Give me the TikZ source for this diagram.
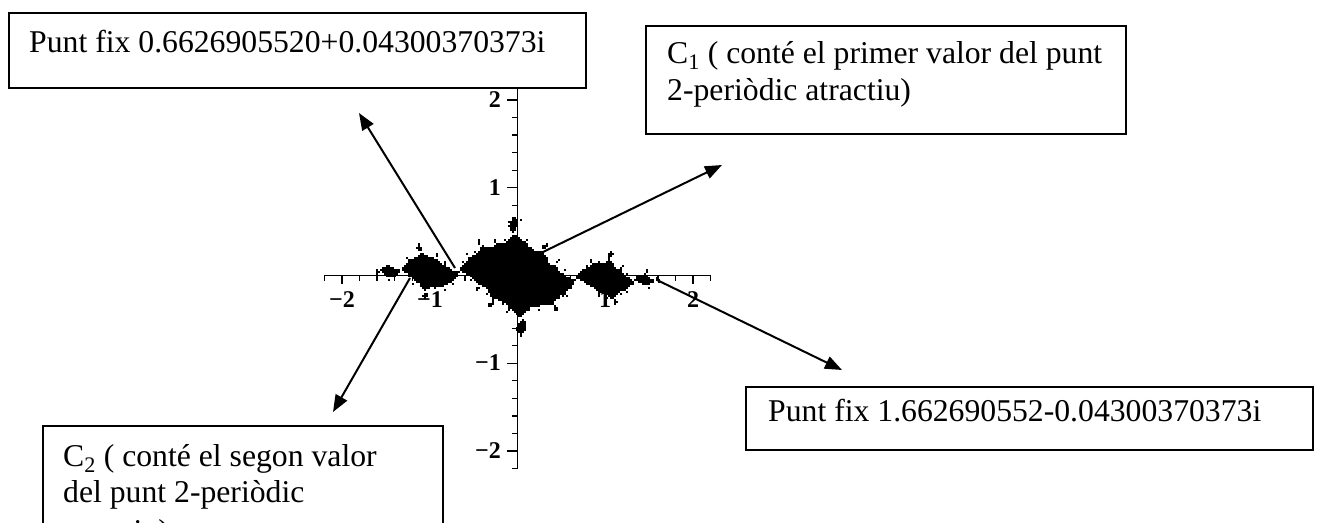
\documentclass[tikz,border=0pt]{standalone}
\usepackage{fontspec}
\setmainfont{Liberation Serif}
\usetikzlibrary{arrows.meta}
\newcount\JX \newcount\JY \newcount\JT \newcount\JN \newcount\JA \newcount\JB
\newif\ifJin \newif\ifJgo \newif\ifJrun
\def\Jmax{40}
% filled Julia set of z^2 + c, c = -1.1 + 0.1i, fixed point arithmetic (scale 65536)
\def\juliatest#1#2{%
  \JX=\numexpr#1\relax \JY=\numexpr#2\relax \JN=0 \Jintrue
  \loop
    \JA=\numexpr\JX*\JX/65536\relax
    \JB=\numexpr\JY*\JY/65536\relax
    \ifnum\numexpr\JA+\JB\relax>262144 \Jinfalse\fi
    \Jgofalse
    \ifJin\ifnum\JN<\Jmax\relax\Jgotrue\fi\fi
  \ifJgo
    \JT=\numexpr\JA-\JB-72090\relax
    \JY=\numexpr\JX*\JY/32768+6554\relax
    \JX=\JT
    \advance\JN by 1
  \repeat}
\begin{document}
\begin{tikzpicture}[x=1pt,y=-1pt,
  box/.style={draw=black, line width=1.5pt, fill=white, inner sep=0pt, anchor=north west},
  txt/.style={inner sep=0pt, anchor=base west, font=\fontsize{31.7}{37}\selectfont},
  lab/.style={inner sep=0pt, font=\fontsize{24}{24}\selectfont\bfseries},
  arr/.style={line width=2pt, -{Triangle[length=17pt,width=13pt]}},
  axisline/.style={line width=1.4pt},
  tick/.style={line width=1.3pt},
  fractal/.style={fill=black}]
\path[use as bounding box] (0,0) rectangle (1317,522);
\clip (0,0) rectangle (1317,522);
% axes
\coordinate (xl) at (324.4,275.5);
\coordinate (xr) at (710.6,275.5);
\coordinate (yt) at (517.5,82.4);
\coordinate (yb) at (517.5,468.6);
\draw[axisline] (xl) -- (xr);
\draw[axisline] (yt) -- (yb);
\foreach \k in {-11,...,11}{
  \draw[tick] ({517.5+\k*17.55},275.5) -- ++(0,5);
  \draw[tick] (517.5,{275.5+\k*17.55}) -- ++(-6,0);
}
\foreach \k in {-10,-5,5,10}{
  \draw[tick] ({517.5+\k*17.55},275.5) -- ++(0,8);
  \draw[tick] (517.5,{275.5+\k*17.55}) -- ++(-11,0);
}
\node[lab] (xm2) at (342,300) {−2};
\node[lab] (xm1) at (430,300) {−1};
\node[lab] (xp1) at (605,300) {1};
\node[lab] (xp2) at (693,300) {2};
\node[lab, anchor=east] (yp2) at (501,100) {2};
\node[lab, anchor=east] (yp1) at (501,188) {1};
\node[lab, anchor=east] (ym1) at (501,363) {−1};
\node[lab, anchor=east] (ym2) at (501,451) {−2};
% Julia set
\foreach \py in {216,218,...,336}{%
  \global\Jrunfalse
  \foreach \px in {369,371,...,667}{%
    \juliatest{(2*\px-1035)*131072/351}{(551-2*\py)*131072/351}%
    \ifJin
      \ifJrun\else\global\Jruntrue\xdef\Jstart{\px}\fi
    \else
      \ifJrun\global\Jrunfalse\fill[fractal] (\Jstart-1,\py-1.1) rectangle (\px-1,\py+1.1);\fi
    \fi
  }%
  \ifJrun\fill[fractal] (\Jstart-1,\py-1.1) rectangle (668,\py+1.1);\fi
}
% boxes
\node[box, minimum width=577pt, minimum height=75pt] (boxA) at (8,12) {};
\node[txt] (tA) at (29,52) {Punt fix 0.6626905520+0.04300370373i};
\node[box, minimum width=480pt, minimum height=108pt] (boxB) at (645,25) {};
\node[txt] (tB1) at (667,63) {C\textsubscript{1} ( conté el primer valor del punt};
\node[txt] (tB2) at (667,100) {2-periòdic atractiu)};
\node[box, minimum width=567pt, minimum height=63pt] (boxC) at (745,386) {};
\node[txt] (tC) at (768,421) {Punt fix 1.662690552-0.04300370373i};
\node[box, minimum width=400pt, minimum height=140pt] (boxD) at (42,425) {};
\node[txt] (tD1) at (63,466) {C\textsubscript{2} ( conté el segon valor};
\node[txt] (tD2) at (63,502) {del punt 2-periòdic};
\node[txt] (tD3) at (63,541) {atractiu)};
% arrows
\coordinate (aA) at (455,268); \coordinate (hA) at (359,113);
\coordinate (aB) at (543,252); \coordinate (hB) at (722,165);
\coordinate (aC) at (657,280); \coordinate (hC) at (842,370);
\coordinate (aD) at (410,278); \coordinate (hD) at (333,412);
\draw[arr] (aA) -- (hA);
\draw[arr] (aB) -- (hB);
\draw[arr] (aC) -- (hC);
\draw[arr] (aD) -- (hD);
\end{tikzpicture}
\end{document}
